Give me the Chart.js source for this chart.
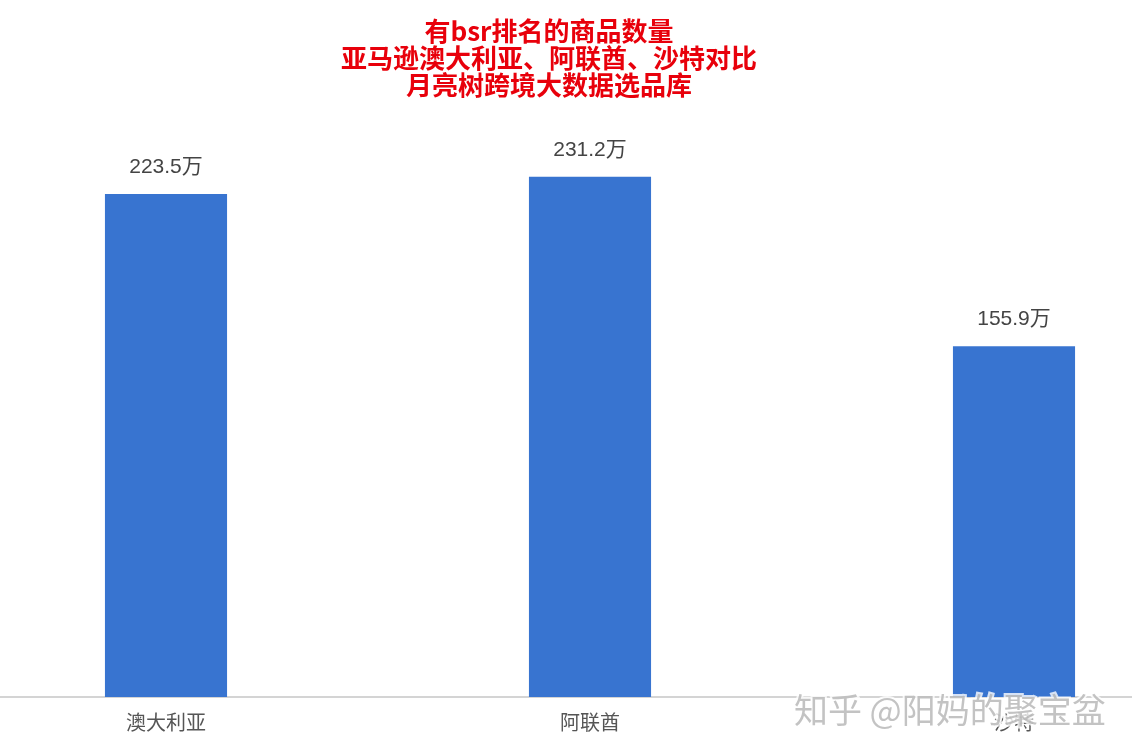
<!DOCTYPE html>
<html>
<head>
<meta charset="utf-8">
<script src="https://cdn.jsdelivr.net/npm/chart.js@4.4.1/dist/chart.umd.min.js"></script>
<style>
    html, body { margin: 0; padding: 0; background: #fff; overflow: hidden; }
    #wrap { position: absolute; left: -46px; top: 0; width: 1272px; height: 756px; }
</style>
</head>
<body>
<div id="wrap"><canvas id="bsrChart" width="1272" height="756"></canvas></div>
<script>
// chart data
const categories = ["澳大利亚", "阿联酋", "沙特"];
const bsrCounts = [223.5, 231.2, 155.9];   // 万
const titleLines = ["有bsr排名的商品数量", "亚马逊澳大利亚、阿联酋、沙特对比", "月亮树跨境大数据选品库"];
const watermark = "知乎 @阳妈的聚宝盆";

// title drawn by hand so it can sit a bit left of the canvas centre
const titlePlugin = {
    id: "redTitle",
    afterDraw(chart) {
        const ctx = chart.ctx;
        ctx.save();
        ctx.fillStyle = "#e8000b";
        ctx.font = "bold 26px 'Noto Sans CJK SC', 'Liberation Sans', sans-serif";
        ctx.textAlign = "center";
        ctx.textBaseline = "middle";
        titleLines.forEach((line, i) => {
            ctx.fillText(line, 595, 31 + i * 27);
        });
        ctx.restore();
    }
};

// value labels above the bars
const valueLabels = {
    id: "valueLabels",
    afterDatasetsDraw(chart) {
        const ctx = chart.ctx;
        const meta = chart.getDatasetMeta(0);
        ctx.save();
        ctx.fillStyle = "#444";
        ctx.font = "21px 'Liberation Sans', 'Noto Sans CJK SC', sans-serif";
        ctx.textAlign = "center";
        ctx.textBaseline = "middle";
        meta.data.forEach((bar, i) => {
            ctx.fillText(bsrCounts[i] + "万", bar.x, bar.y - 27);
        });
        ctx.restore();
    }
};

// faint site watermark, bottom right
const watermarkPlugin = {
    id: "watermark",
    afterDraw(chart) {
        const ctx = chart.ctx;
        ctx.save();
        ctx.font = "34px 'Noto Sans CJK SC', sans-serif";
        ctx.textAlign = "left";
        ctx.textBaseline = "middle";
        ctx.lineWidth = 4;
        ctx.strokeStyle = "rgba(255,255,255,0.8)";
        ctx.strokeText(watermark, 840, 710);
        ctx.fillStyle = "rgba(170,170,170,0.7)";
        ctx.fillText(watermark, 840, 710);
        ctx.restore();
    }
};

const ctx = document.getElementById("bsrChart").getContext("2d");
const bsrChart = new Chart(ctx, {
    type: "bar",
    data: {
        labels: categories,
        datasets: [{
            data: bsrCounts,
            backgroundColor: "#3874d0",
            categoryPercentage: 1,
            barPercentage: 0.288
        }]
    },
    options: {
        responsive: false,
        animation: false,
        layout: { padding: { top: 120, bottom: 17, left: 0, right: 0 } },
        plugins: {
            legend: { display: false },
            title: { display: false },
            tooltip: { enabled: false }
        },
        scales: {
            x: {
                grid: { display: false },
                border: { display: true, color: "#d4d4d4", width: 2 },
                ticks: {
                    color: "#555",
                    padding: 5,
                    font: { size: 20, family: "'Noto Sans CJK SC', sans-serif" }
                }
            },
            y: {
                display: false,
                min: 0,
                max: 256.4
            }
        }
    },
    plugins: [titlePlugin, valueLabels, watermarkPlugin]
});
</script>
</body>
</html>
